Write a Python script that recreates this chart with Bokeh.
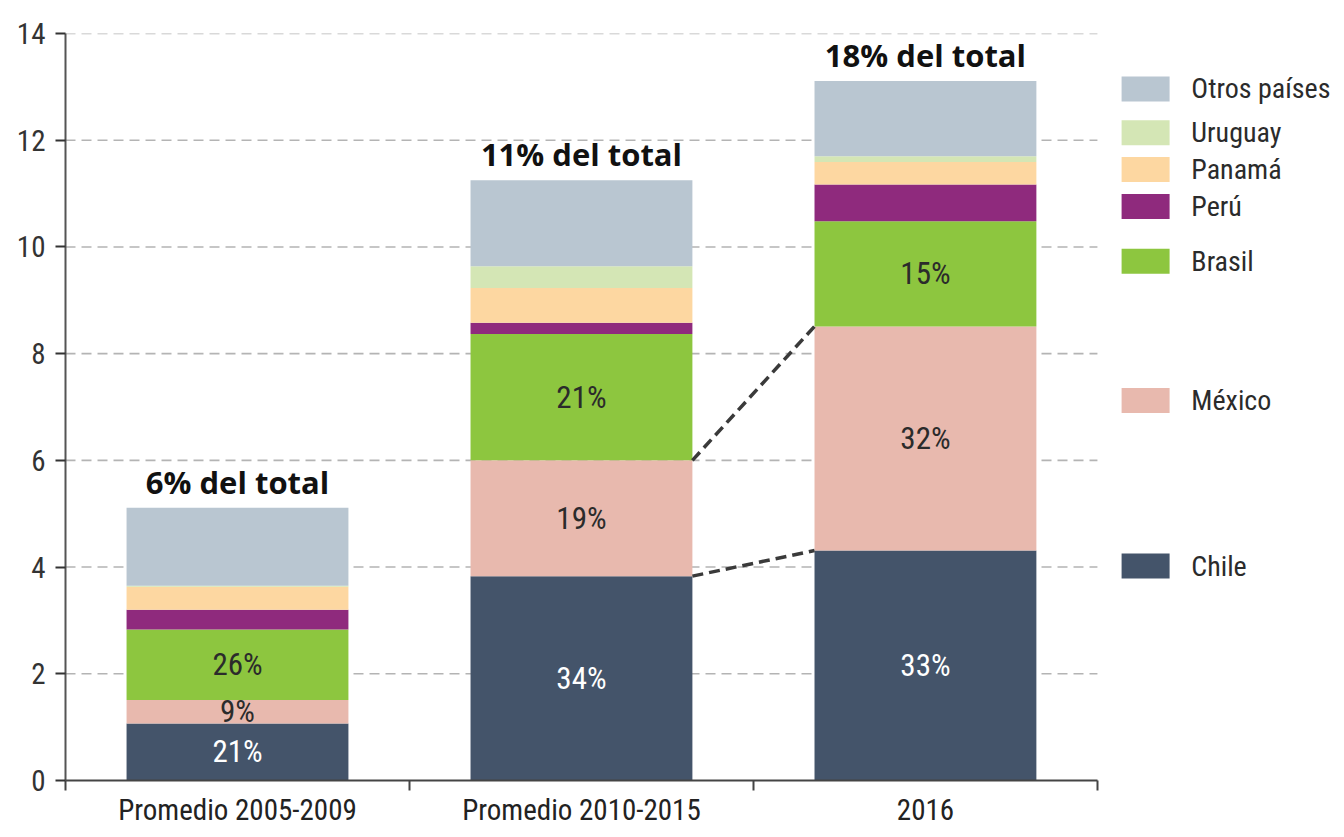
from bokeh.plotting import figure
from bokeh.models import Range1d, FixedTicker
from bokeh.core.properties import value
from bokeh.embed import file_html
from bokeh.resources import INLINE

# ---- data ----
periods = ["Promedio 2005-2009", "Promedio 2010-2015", "2016"]
countries = ["Chile", "México", "Brasil", "Perú", "Panamá", "Uruguay", "Otros países"]
chile = [1.07, 3.83, 4.31]
mexico = [0.44, 2.17, 4.20]
brasil = [1.32, 2.37, 1.97]
peru = [0.37, 0.21, 0.69]
panama = [0.43, 0.65, 0.42]
uruguay = [0.02, 0.41, 0.11]
otros = [1.46, 1.61, 1.41]
share_labels = {
    "Chile": ["21%", "34%", "33%"],
    "México": ["9%", "19%", "32%"],
    "Brasil": ["26%", "21%", "15%"],
}
total_labels = ["6% del total", "11% del total", "18% del total"]
y_ticks = [0, 2, 4, 6, 8, 10, 12, 14]

colors = {
    "Chile": "#44546a",
    "México": "#e8b9ae",
    "Brasil": "#8dc63f",
    "Perú": "#8f2a7d",
    "Panamá": "#fdd7a1",
    "Uruguay": "#d4e6b5",
    "Otros países": "#b9c6d1",
}
legend_order = ["Otros países", "Uruguay", "Panamá", "Perú", "Brasil", "México", "Chile"]
legend_y = [12.96, 12.14, 11.45, 10.76, 9.73, 7.12, 4.02]

series = {"Chile": chile, "México": mexico, "Brasil": brasil, "Perú": peru,
          "Panamá": panama, "Uruguay": uruguay, "Otros países": otros}

COND = "'Roboto Condensed', 'DejaVu Sans Condensed', 'Liberation Sans Narrow', Roboto, sans-serif"
xc = [i + 0.5 for i in range(len(periods))]
bar_w = 0.645

p = figure(width=1336, height=829, output_backend="svg", toolbar_location=None,
           x_range=Range1d(0, 3.695), y_range=Range1d(0, 14),
           min_border_left=65, min_border_right=0, min_border_top=33, min_border_bottom=46)
p.outline_line_color = None
p.xgrid.visible = False
p.ygrid.visible = False

# gridlines (dashed, only over the chart area)
p.segment(x0=[0] * (len(y_ticks) - 1), x1=[3] * (len(y_ticks) - 1), y0=y_ticks[1:], y1=y_ticks[1:],
          line_color="#b4b4b4", line_width=1.6, line_dash="10 6")

# stacked bars
bottom = [0.0, 0.0, 0.0]
mids = {}
for c in countries:
    vals = series[c]
    top = [b + v for b, v in zip(bottom, vals)]
    p.vbar(x=xc, width=bar_w, bottom=bottom, top=top, fill_color=colors[c], line_color=None)
    mids[c] = [(b + t) / 2 for b, t in zip(bottom, top)]
    bottom = top
totals = bottom

# connectors between bars 2 and 3
chile_top = chile
mex_top = [a + b for a, b in zip(chile, mexico)]
p.segment(x0=[xc[1] + bar_w / 2] * 2, x1=[xc[2] - bar_w / 2] * 2,
          y0=[chile_top[1], mex_top[1]], y1=[chile_top[2], mex_top[2]],
          line_color="#3a3a3a", line_width=3.5, line_dash="11 6")

# share labels
for c, labs in share_labels.items():
    col = "white" if c == "Chile" else "#2b2b2b"
    p.text(x=xc, y=mids[c], text=labs, text_align="center", text_baseline="middle",
           text_font=value(COND), text_font_size="31px", text_color=col)

# total labels
p.text(x=xc, y=totals, text=total_labels, text_align="center", text_baseline="bottom",
       y_offset=-5, text_font=value("Open Sans"), text_font_style="bold",
       text_font_size="31px", text_color="#111111")

# legend
p.rect(x=[3.14] * len(legend_order), y=legend_y, width=48, height=25,
       width_units="screen", height_units="screen",
       fill_color=[colors[c] for c in legend_order], line_color=None)
p.text(x=[3.273] * len(legend_order), y=legend_y, text=legend_order, text_baseline="middle",
       text_align="left", text_font=value(COND), text_font_size="28px", text_color="#2b2b2b")

# axes
p.yaxis.ticker = FixedTicker(ticks=y_ticks)
p.yaxis.bounds = (0, 14)
p.yaxis.axis_line_color = "#555555"
p.yaxis.axis_line_width = 2
p.yaxis.major_tick_line_color = "#333333"
p.yaxis.major_tick_line_width = 2
p.yaxis.major_tick_out = 10
p.yaxis.major_tick_in = 0
p.yaxis.minor_tick_line_color = None
p.yaxis.major_label_standoff = 10
p.yaxis.major_label_text_font = COND
p.yaxis.major_label_text_font_size = "29px"
p.yaxis.major_label_text_color = "#333333"

p.xaxis.ticker = FixedTicker(ticks=xc, minor_ticks=[0, 1, 2, 3])
p.xaxis.major_label_overrides = {v: lab for v, lab in zip(xc, periods)}
p.xaxis.bounds = (0, 3)
p.xaxis.axis_line_color = "#444444"
p.xaxis.axis_line_width = 2
p.xaxis.major_tick_line_color = None
p.xaxis.major_tick_out = 0
p.xaxis.major_tick_in = 0
p.xaxis.minor_tick_line_color = "#444444"
p.xaxis.minor_tick_line_width = 2
p.xaxis.minor_tick_out = 10
p.xaxis.minor_tick_in = 0
p.xaxis.major_label_standoff = 2
p.xaxis.major_label_text_font = COND
p.xaxis.major_label_text_font_size = "29px"
p.xaxis.major_label_text_color = "#222222"

open("out.html", "w").write(file_html(p, INLINE))
